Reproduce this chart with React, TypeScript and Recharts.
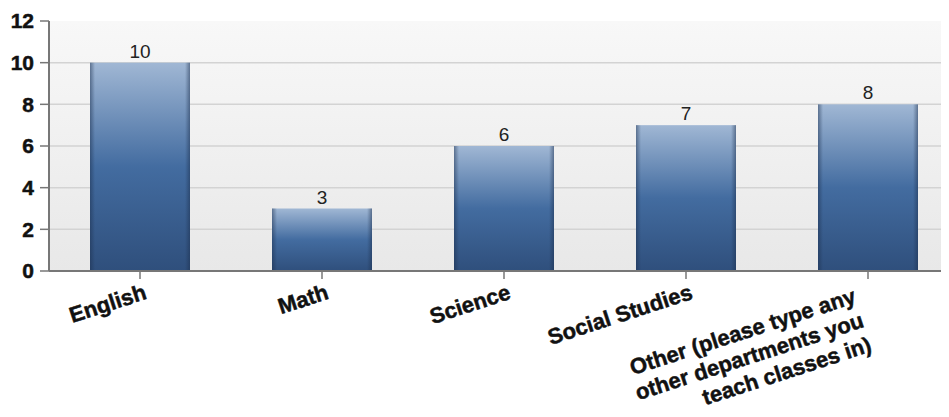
import React from "react";
import { BarChart, Bar, XAxis, YAxis, CartesianGrid, LabelList } from "recharts";

const departments = [
  "English",
  "Math",
  "Science",
  "Social Studies",
  "Other (please type any other departments you teach classes in)",
];
const teacherCounts = [10, 3, 6, 7, 8];
const yTicks = [0, 2, 4, 6, 8, 10, 12];
const gridValues = [2, 4, 6, 8, 10];

// wrapped tick text, one entry per line
const tickLines: Record<string, string[]> = {
  "Other (please type any other departments you teach classes in)": [
    "Other (please type any",
    "other departments you",
    "teach classes in)",
  ],
};

const data = departments.map((name, i) => ({ name, count: teacherCounts[i] }));

const FONT = "'Liberation Sans', Arial, sans-serif";

const SlantedTick = (props: any) => {
  const { x, y, payload } = props;
  const lines = tickLines[payload.value] || [payload.value];
  const multi = lines.length > 1;
  const u = multi ? -17 : 2;
  const v0 = multi ? 17 : 19;
  return (
    <g transform={`translate(${x},${y}) rotate(-18)`}>
      {lines.map((line, i) => (
        <text
          key={i}
          x={u}
          y={v0 + i * 25.5}
          textAnchor="end"
          fontFamily={FONT}
          fontWeight="bold"
          fontSize={22}
          fill="#111"
          stroke="#111"
          strokeWidth={0.5}
        >
          {line}
        </text>
      ))}
    </g>
  );
};

const ShadedBar = (props: any) => {
  const { x, y, width, height } = props;
  if (!height || height <= 0) return null;
  return (
    <g>
      <rect x={x} y={y} width={width} height={height} fill="url(#barFill)" />
      <rect x={x} y={y} width={width} height={height} fill="url(#barEdge)" />
    </g>
  );
};

export default function App() {
  return (
    <div style={{ width: 941, height: 401, overflow: "hidden" }}>
      <BarChart
        width={951}
        height={401}
        data={data}
        margin={{ top: 13, right: 0, bottom: 0, left: 0 }}
      >
        <defs>
          <linearGradient id="plotBg" x1="0" y1="0" x2="0" y2="1">
            <stop offset="0%" stopColor="#f8f8f8" />
            <stop offset="100%" stopColor="#e8e8e8" />
          </linearGradient>
          <linearGradient id="barFill" x1="0" y1="0" x2="0" y2="1">
            <stop offset="0%" stopColor="#a0b7d4" />
            <stop offset="50%" stopColor="#436ca0" />
            <stop offset="100%" stopColor="#2f4f7c" />
          </linearGradient>
          <linearGradient id="barEdge" x1="0" y1="0" x2="1" y2="0">
            <stop offset="0%" stopColor="#1c2f4d" stopOpacity={0.5} />
            <stop offset="5%" stopColor="#1c2f4d" stopOpacity={0} />
            <stop offset="95%" stopColor="#1c2f4d" stopOpacity={0} />
            <stop offset="100%" stopColor="#1c2f4d" stopOpacity={0.5} />
          </linearGradient>
        </defs>
        <CartesianGrid
          vertical={false}
          horizontalValues={gridValues}
          fill="url(#plotBg)"
          fillOpacity={1}
          stroke="#d3d3d3"
          strokeWidth={1.5}
        />
        <XAxis
          dataKey="name"
          interval={0}
          height={138}
          tickSize={8}
          tickLine={{ stroke: "#777", strokeWidth: 1.5 }}
          axisLine={{ stroke: "#777", strokeWidth: 2 }}
          tick={<SlantedTick />}
        />
        <YAxis
          width={41}
          domain={[0, 12]}
          ticks={yTicks}
          interval={0}
          tickSize={9}
          tickMargin={6}
          tickLine={{ stroke: "#777", strokeWidth: 1.5 }}
          axisLine={{ stroke: "#777", strokeWidth: 2 }}
          tick={{
            fill: "#111",
            stroke: "#111",
            strokeWidth: 0.5,
            fontFamily: FONT,
            fontWeight: "bold",
            fontSize: 21,
          }}
        />
        <Bar dataKey="count" barSize={100} shape={<ShadedBar />} isAnimationActive={false}>
          <LabelList
            dataKey="count"
            position="top"
            offset={5}
            fill="#222"
            fontFamily={FONT}
            fontSize={19}
          />
        </Bar>
      </BarChart>
    </div>
  );
}
